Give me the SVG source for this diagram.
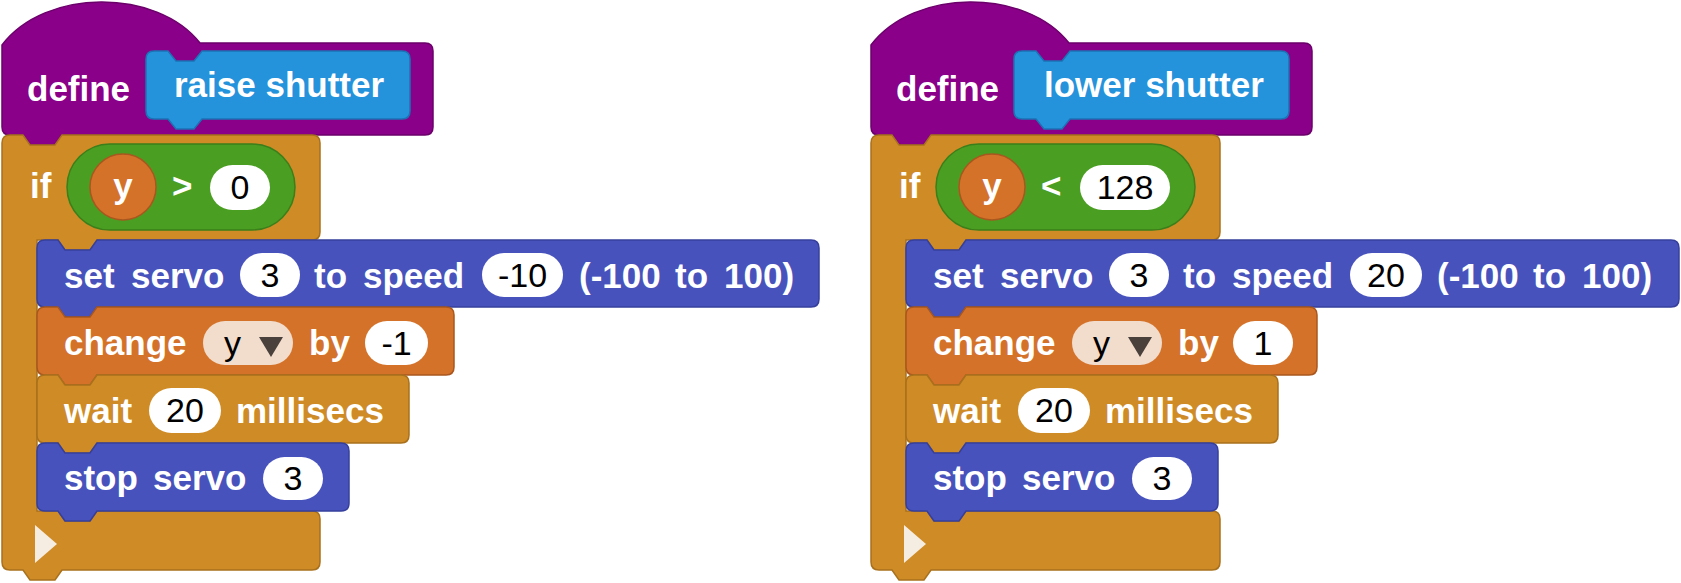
<svg xmlns="http://www.w3.org/2000/svg" width="1681" height="583" viewBox="0 0 1681 583">
<style>
.lbl{font-family:"Liberation Sans",Arial,sans-serif;font-weight:bold;font-size:35px;fill:#ffffff}
.val{font-family:"Liberation Sans",Arial,sans-serif;font-size:34px;fill:#000000;text-anchor:middle}
.dd{font-family:"Liberation Sans",Arial,sans-serif;font-size:34px;fill:#000000}
.def{fill:#8a0088;stroke:#6c006b;stroke-width:1.5}
.proc{fill:#2592dc;stroke:#1a73b4;stroke-width:1.5}
.ctrl{fill:#cf8b26;stroke:#a9711c;stroke-width:1.5}
.servo{fill:#4852bd;stroke:#36409c;stroke-width:1.5}
.var{fill:#d4722a;stroke:#a9571e;stroke-width:1.5}
.bool{fill:#4a9e22;stroke:#3a7f1a;stroke-width:1.5}
.pill{fill:#ffffff}
.ddbox{fill:#f2dccb}
.tri{fill:#4a403c}
.play{fill:#f6ede2}
</style>
<g id="connectors"/>

<!-- LEFT SCRIPT -->
<g id="left-script">
  <g id="left-define">
    <path class="def" d="M 2,45 C 45,-12 157,-12 200,43 H 425 Q 433,43 433,51 V 127 Q 433,135 425,135 H 62 L 55,145 H 30 L 23,135 H 10 Q 2,135 2,127 Z"/>
    <text class="lbl" x="27" y="101">define</text>
    <path class="proc" d="M 146,59 Q 146,51 154,51 H 168 L 176,61 H 194 L 202,51 H 402 Q 410,51 410,59 V 111 Q 410,119 402,119 H 202 L 194,129 H 176 L 168,119 H 154 Q 146,119 146,111 Z"/>
    <text class="lbl" x="174" y="97">raise shutter</text>
  </g>
  <g id="left-if">
    <path class="ctrl" d="M 2,143 Q 2,135 10,135 H 23 L 30,145 H 55 L 62,135 H 312 Q 320,135 320,143 V 232 Q 320,240 312,240 H 97 L 90,250 H 65 L 58,240 H 37 V 511 H 58 L 65,521 H 90 L 97,511 H 312 Q 320,511 320,519 V 562 Q 320,570 312,570 H 62 L 55,580 H 30 L 23,570 H 10 Q 2,570 2,562 Z"/>
    <text class="lbl" x="30" y="198">if</text>
    <polygon class="play" points="35,525 57,544 35,563"/>
    <g id="left-cond">
      <rect class="bool" x="67" y="144" width="228" height="86" rx="43"/>
      <circle class="var" cx="123" cy="187" r="33"/>
      <text class="lbl" x="123" y="198" text-anchor="middle">y</text>
      <text class="lbl" x="172" y="198">&gt;</text>
      <rect class="pill" x="210" y="165" width="60" height="45" rx="22.5"/>
      <text class="val" x="240" y="199">0</text>
    </g>
  </g>
  <g id="left-setservo">
    <path class="servo" d="M 37,248 Q 37,240 45,240 H 58 L 65,250 H 90 L 97,240 H 811 Q 819,240 819,248 V 299 Q 819,307 811,307 H 97 L 90,317 H 65 L 58,307 H 45 Q 37,307 37,299 Z"/>
    <text class="lbl" x="64" y="288">set</text>
    <text class="lbl" x="131" y="288">servo</text>
    <rect class="pill" x="240" y="253" width="60" height="44" rx="22"/>
    <text class="val" x="270" y="287">3</text>
    <text class="lbl" x="314" y="288">to</text>
    <text class="lbl" x="363" y="288">speed</text>
    <rect class="pill" x="482" y="253" width="81" height="44" rx="22"/>
    <text class="val" x="522.5" y="287">-10</text>
    <text class="lbl" x="579" y="288">(-100</text>
    <text class="lbl" x="675" y="288">to</text>
    <text class="lbl" x="724" y="288">100)</text>
  </g>
  <g id="left-change">
    <path class="var" d="M 37,315 Q 37,307 45,307 H 58 L 65,317 H 90 L 97,307 H 446 Q 454,307 454,315 V 367 Q 454,375 446,375 H 97 L 90,385 H 65 L 58,375 H 45 Q 37,375 37,367 Z"/>
    <text class="lbl" x="64" y="355">change</text>
    <rect class="ddbox" x="203" y="321" width="90" height="44" rx="22"/>
    <text class="dd" x="224" y="355">y</text>
    <polygon class="tri" points="259,337 283,337 271,357"/>
    <text class="lbl" x="309" y="355">by</text>
    <rect class="pill" x="365" y="321" width="63" height="44" rx="22"/>
    <text class="val" x="396.5" y="355">-1</text>
  </g>
  <g id="left-wait">
    <path class="ctrl" d="M 37,383 Q 37,375 45,375 H 58 L 65,385 H 90 L 97,375 H 401 Q 409,375 409,383 V 435 Q 409,443 401,443 H 97 L 90,453 H 65 L 58,443 H 45 Q 37,443 37,435 Z"/>
    <text class="lbl" x="64" y="423">wait</text>
    <rect class="pill" x="149" y="388" width="72" height="45" rx="22.5"/>
    <text class="val" x="185" y="422">20</text>
    <text class="lbl" x="236" y="423">millisecs</text>
  </g>
  <g id="left-stop">
    <path class="servo" d="M 37,451 Q 37,443 45,443 H 58 L 65,453 H 90 L 97,443 H 341 Q 349,443 349,451 V 503 Q 349,511 341,511 H 97 L 90,521 H 65 L 58,511 H 45 Q 37,511 37,503 Z"/>
    <text class="lbl" x="64" y="490">stop</text>
    <text class="lbl" x="153" y="490">servo</text>
    <rect class="pill" x="263" y="457" width="60" height="43" rx="21.5"/>
    <text class="val" x="293" y="490">3</text>
  </g>
</g>

<!-- RIGHT SCRIPT -->
<g id="right-script" transform="translate(869,0)">
  <g id="right-define">
    <path class="def" d="M 2,45 C 45,-12 157,-12 200,43 H 435 Q 443,43 443,51 V 127 Q 443,135 435,135 H 62 L 55,145 H 30 L 23,135 H 10 Q 2,135 2,127 Z"/>
    <text class="lbl" x="27" y="101">define</text>
    <path class="proc" d="M 145,59 Q 145,51 153,51 H 167 L 175,61 H 193 L 201,51 H 412 Q 420,51 420,59 V 111 Q 420,119 412,119 H 201 L 193,129 H 175 L 167,119 H 153 Q 145,119 145,111 Z"/>
    <text class="lbl" x="175" y="97">lower shutter</text>
  </g>
  <g id="right-if">
    <path class="ctrl" d="M 2,143 Q 2,135 10,135 H 23 L 30,145 H 55 L 62,135 H 343 Q 351,135 351,143 V 232 Q 351,240 343,240 H 97 L 90,250 H 65 L 58,240 H 37 V 511 H 58 L 65,521 H 90 L 97,511 H 343 Q 351,511 351,519 V 562 Q 351,570 343,570 H 62 L 55,580 H 30 L 23,570 H 10 Q 2,570 2,562 Z"/>
    <text class="lbl" x="30" y="198">if</text>
    <polygon class="play" points="35,525 57,544 35,563"/>
    <g id="right-cond">
      <rect class="bool" x="67" y="144" width="259" height="86" rx="43"/>
      <circle class="var" cx="123" cy="187" r="33"/>
      <text class="lbl" x="123" y="198" text-anchor="middle">y</text>
      <text class="lbl" x="172" y="198">&lt;</text>
      <rect class="pill" x="211" y="165" width="90" height="45" rx="22.5"/>
      <text class="val" x="256" y="199">128</text>
    </g>
  </g>
  <g id="right-setservo">
    <path class="servo" d="M 37,248 Q 37,240 45,240 H 58 L 65,250 H 90 L 97,240 H 802 Q 810,240 810,248 V 299 Q 810,307 802,307 H 97 L 90,317 H 65 L 58,307 H 45 Q 37,307 37,299 Z"/>
    <text class="lbl" x="64" y="288">set</text>
    <text class="lbl" x="131" y="288">servo</text>
    <rect class="pill" x="240" y="253" width="60" height="44" rx="22"/>
    <text class="val" x="270" y="287">3</text>
    <text class="lbl" x="314" y="288">to</text>
    <text class="lbl" x="363" y="288">speed</text>
    <rect class="pill" x="481" y="253" width="72" height="44" rx="22"/>
    <text class="val" x="517" y="287">20</text>
    <text class="lbl" x="568" y="288">(-100</text>
    <text class="lbl" x="664" y="288">to</text>
    <text class="lbl" x="713" y="288">100)</text>
  </g>
  <g id="right-change">
    <path class="var" d="M 37,315 Q 37,307 45,307 H 58 L 65,317 H 90 L 97,307 H 440 Q 448,307 448,315 V 367 Q 448,375 440,375 H 97 L 90,385 H 65 L 58,375 H 45 Q 37,375 37,367 Z"/>
    <text class="lbl" x="64" y="355">change</text>
    <rect class="ddbox" x="203" y="321" width="90" height="44" rx="22"/>
    <text class="dd" x="224" y="355">y</text>
    <polygon class="tri" points="259,337 283,337 271,357"/>
    <text class="lbl" x="309" y="355">by</text>
    <rect class="pill" x="364" y="321" width="60" height="44" rx="22"/>
    <text class="val" x="394" y="355">1</text>
  </g>
  <g id="right-wait">
    <path class="ctrl" d="M 37,383 Q 37,375 45,375 H 58 L 65,385 H 90 L 97,375 H 401 Q 409,375 409,383 V 435 Q 409,443 401,443 H 97 L 90,453 H 65 L 58,443 H 45 Q 37,443 37,435 Z"/>
    <text class="lbl" x="64" y="423">wait</text>
    <rect class="pill" x="149" y="388" width="72" height="45" rx="22.5"/>
    <text class="val" x="185" y="422">20</text>
    <text class="lbl" x="236" y="423">millisecs</text>
  </g>
  <g id="right-stop">
    <path class="servo" d="M 37,451 Q 37,443 45,443 H 58 L 65,453 H 90 L 97,443 H 341 Q 349,443 349,451 V 503 Q 349,511 341,511 H 97 L 90,521 H 65 L 58,511 H 45 Q 37,511 37,503 Z"/>
    <text class="lbl" x="64" y="490">stop</text>
    <text class="lbl" x="153" y="490">servo</text>
    <rect class="pill" x="263" y="457" width="60" height="43" rx="21.5"/>
    <text class="val" x="293" y="490">3</text>
  </g>
</g>
</svg>
